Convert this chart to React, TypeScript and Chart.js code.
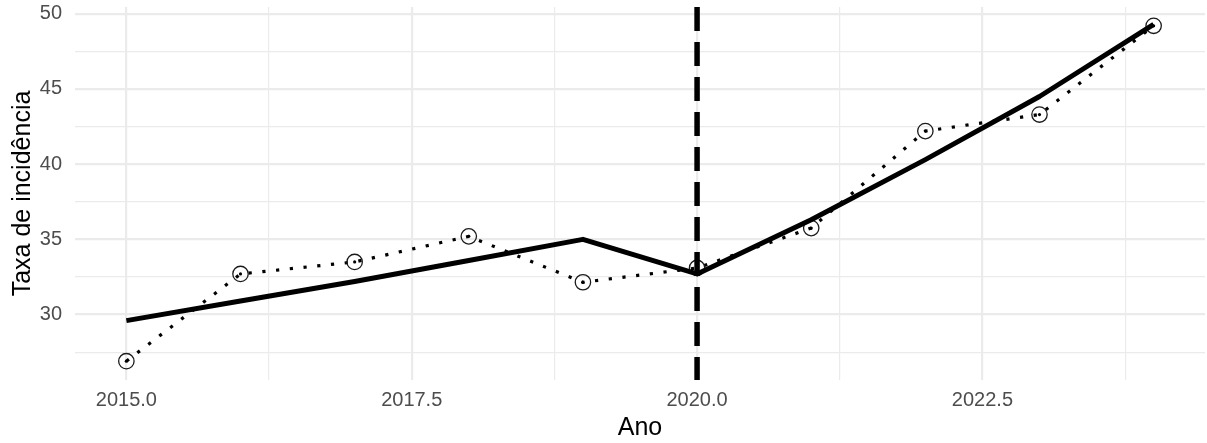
import { useEffect, useRef } from "react";
import { Chart, registerables } from "chart.js";

Chart.register(...registerables);

// ---- data ----
const years = [2015, 2016, 2017, 2018, 2019, 2020, 2021, 2022, 2023, 2024];
const observed = [26.9, 32.7, 33.5, 35.2, 32.15, 33.1, 35.75, 42.2, 43.3, 49.2];
const fitted = [29.6, 30.9, 32.2, 33.6, 35.0, 32.7, 36.3, 40.3, 44.5, 49.3];
const interventionYear = 2020;

const xTickValues = [2015, 2016.25, 2017.5, 2018.75, 2020, 2021.25, 2022.5, 2023.75];
const xTickLabels = ["2015.0", "", "2017.5", "", "2020.0", "", "2022.5", ""];
const yTickValues = [27.5, 30, 32.5, 35, 37.5, 40, 42.5, 45, 47.5, 50];
const yTickLabels = ["", "30", "", "35", "", "40", "", "45", "", "50"];

const X_MIN = 2014.55;
const X_MAX = 2024.45;
const Y_MIN = 25.65;
const Y_MAX = 50.45;

const xTitle = "Ano";
const yTitle = "Taxa de incidência";

const FONT = "'Liberation Sans', Arial, sans-serif";
const GRID = "#ebebeb";

export default function App() {
  const ref = useRef<HTMLCanvasElement | null>(null);

  useEffect(() => {
    if (!ref.current) return;
    const obsPts = years.map((x, i) => ({ x, y: observed[i] }));
    const fitPts = years.map((x, i) => ({ x, y: fitted[i] }));
    const vline = [
      { x: interventionYear, y: Y_MAX },
      { x: interventionYear, y: Y_MIN },
    ];
    const gridWidth = (ctx: any) => {
      const lbl = ctx.tick && ctx.tick.label;
      return lbl ? 2.2 : 1.2;
    };

    const chart = new Chart(ref.current, {
      type: "line",
      data: {
        datasets: [
          {
            label: "vline",
            data: vline,
            borderColor: "#000",
            borderWidth: 5.5,
            borderDash: [24, 11],
            borderCapStyle: "butt",
            pointRadius: 0,
            order: 0,
          },
          {
            label: "fitted",
            data: fitPts,
            borderColor: "#000",
            borderWidth: 5,
            borderJoinStyle: "round",
            pointRadius: 0,
            tension: 0,
            order: 1,
          },
          {
            label: "circles",
            data: obsPts,
            showLine: false,
            pointRadius: 7.7,
            pointBorderWidth: 1.3,
            pointBorderColor: "#1a1a1a",
            pointBackgroundColor: "rgba(0,0,0,0)",
            order: 2,
          },
          {
            label: "observed",
            data: obsPts,
            borderColor: "#000",
            borderWidth: 3.2,
            borderDash: [3.2, 10.6],
            borderCapStyle: "butt",
            pointRadius: 1.6,
            pointBorderWidth: 0,
            pointBackgroundColor: "#000",
            tension: 0,
            order: 3,
          },
        ],
      },
      options: {
        responsive: false,
        animation: false,
        devicePixelRatio: 1,
        layout: { autoPadding: false, padding: { top: 7, right: 2, left: 0, bottom: 0 } },
        plugins: {
          legend: { display: false },
          tooltip: { enabled: false },
          title: { display: false },
        },
        scales: {
          x: {
            type: "linear",
            min: X_MIN,
            max: X_MAX,
            afterBuildTicks: (scale: any) => {
              scale.ticks = xTickValues.map((v) => ({ value: v }));
            },
            afterFit: (scale: any) => {
              scale.height = 63;
              scale.paddingLeft = 0;
              scale.paddingRight = 0;
              scale.paddingTop = 0;
              scale.paddingBottom = 0;
            },
            ticks: {
              autoSkip: false,
              maxRotation: 0,
              minRotation: 0,
              padding: 8,
              color: "#4d4d4d",
              font: { family: FONT, size: 20, lineHeight: 1.2 },
              callback: (v: any) => {
                const i = xTickValues.indexOf(Number(v));
                return i >= 0 ? xTickLabels[i] : "";
              },
            },
            grid: { color: GRID, lineWidth: gridWidth, drawTicks: false },
            border: { display: false },
            title: {
              display: true,
              text: xTitle,
              color: "#000",
              font: { family: FONT, size: 25, lineHeight: 1 },
              padding: { top: 0, bottom: 2.25 },
            },
          },
          y: {
            type: "linear",
            min: Y_MIN,
            max: Y_MAX,
            afterBuildTicks: (scale: any) => {
              scale.ticks = yTickValues.map((v) => ({ value: v }));
            },
            afterFit: (scale: any) => {
              scale.width = 75;
              scale.paddingLeft = 0;
              scale.paddingRight = 0;
              scale.paddingTop = 0;
              scale.paddingBottom = 0;
            },
            ticks: {
              autoSkip: false,
              padding: 13,
              color: "#4d4d4d",
              font: { family: FONT, size: 20, lineHeight: 1.2 },
              callback: (v: any) => {
                const i = yTickValues.indexOf(Number(v));
                return i >= 0 ? yTickLabels[i] : "";
              },
            },
            grid: { color: GRID, lineWidth: gridWidth, drawTicks: false },
            border: { display: false },
            title: {
              display: true,
              text: yTitle,
              color: "#000",
              font: { family: FONT, size: 25, lineHeight: 1 },
              padding: { top: 10.75, bottom: 0 },
            },
          },
        },
      },
    } as any);
    return () => chart.destroy();
  }, []);

  return (
    <div style={{ position: "absolute", left: 0, top: 0, width: 1207, height: 443, background: "#fff" }}>
      <canvas ref={ref} width={1207} height={443} style={{ width: 1207, height: 443, display: "block" }} />
    </div>
  );
}
